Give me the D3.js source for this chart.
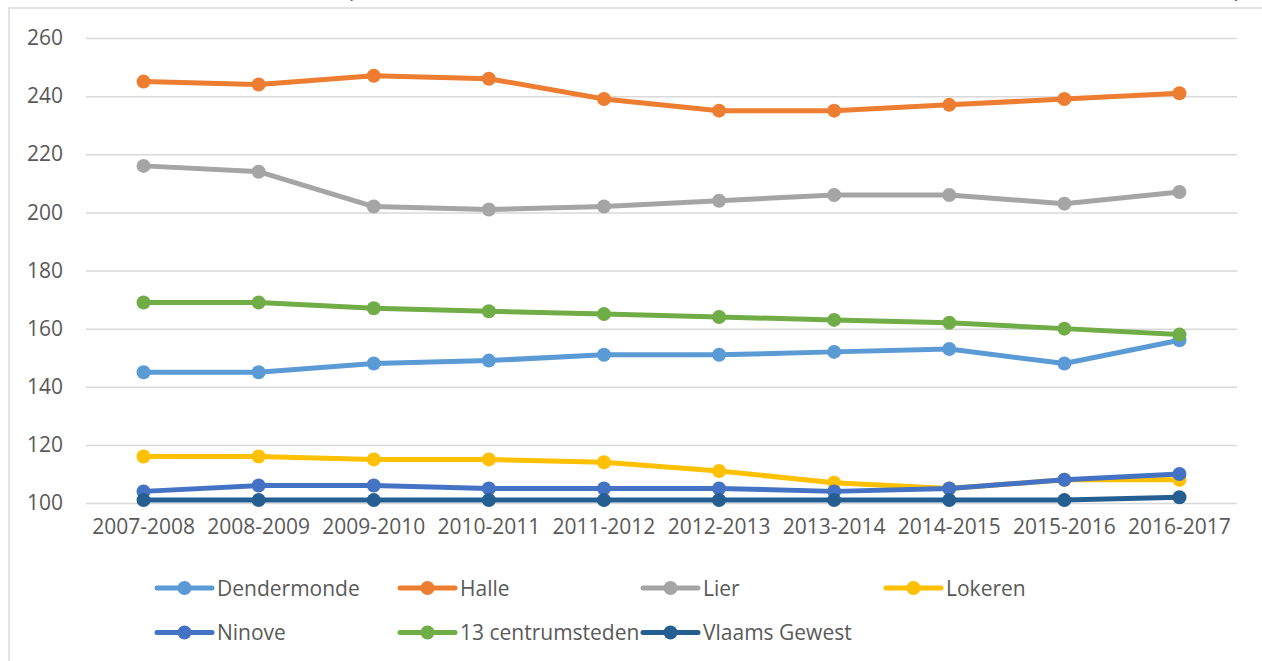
<!DOCTYPE html>
<html><head><meta charset="utf-8">
<script src="https://cdn.jsdelivr.net/npm/d3@7"></script>
<style>
html,body{margin:0;padding:0;background:#fff;}
svg{display:block;font-family:"Open Sans",sans-serif;}
</style></head>
<body>
<svg id="chart" width="1262" height="661"></svg>
<script>
const categories = ["2007-2008","2008-2009","2009-2010","2010-2011","2011-2012","2012-2013","2013-2014","2014-2015","2015-2016","2016-2017"];
const yTicks = [100,120,140,160,180,200,220,240,260];
const seriesNames = ["Dendermonde","Halle","Lier","Lokeren","Ninove","13 centrumsteden","Vlaams Gewest"];
const seriesColors = ["#5B9BD5","#ED7D31","#A5A5A5","#FFC000","#4472C4","#70AD47","#255E91"];
const dendermonde = [145,145,148,149,151,151,152,153,148,156];
const halle = [245,244,247,246,239,235,235,237,239,241];
const lier = [216,214,202,201,202,204,206,206,203,207];
const lokeren = [116,116,115,115,114,111,107,105,108,108];
const ninove = [104,106,106,105,105,105,104,105,108,110];
const centrumsteden = [169,169,167,166,165,164,163,162,160,158];
const vlaamsGewest = [101,101,101,101,101,101,101,101,101,102];
const seriesValues = [dendermonde,halle,lier,lokeren,ninove,centrumsteden,vlaamsGewest];

const svg = d3.select("#chart");
const textColor = "#595959";
const gridColor = "#D9D9D9";

// chart area border (extends beyond viewport)
svg.append("rect").attr("x",9).attr("y",8).attr("width",1400).attr("height",800)
  .attr("fill","none").attr("stroke",gridColor).attr("stroke-width",1.5);

// cut-off title remnants (the reference shows only their lower tips)
svg.append("text").attr("x",347).attr("y",-2).attr("font-size",22).attr("fill",textColor).text("(");
svg.append("text").attr("x",1234).attr("y",-2).attr("font-size",22).attr("fill",textColor).text(")");

const x = d3.scaleBand().domain(categories).range([86,1237]);
const y = d3.scaleLinear().domain([100,260]).range([503,38]);

// gridlines
const yAxis = d3.axisLeft(y).tickValues(yTicks).tickSize(-(1237-86)).tickPadding(23);
const gy = svg.append("g").attr("transform","translate(86,0)").call(yAxis);
gy.select(".domain").remove();
gy.selectAll(".tick line").attr("stroke",gridColor).attr("stroke-width",1.5);
gy.selectAll(".tick text").attr("fill",textColor).attr("font-size",21).attr("font-family","Open Sans, sans-serif");

const xAxis = d3.axisBottom(x).tickSize(0).tickPadding(16);
const gx = svg.append("g").attr("transform","translate(0,503)").call(xAxis);
gx.select(".domain").remove();
gx.selectAll(".tick text").attr("fill",textColor).attr("font-size",21).attr("font-family","Open Sans, sans-serif");

const line = d3.line().x((d,i)=>x(categories[i])+x.bandwidth()/2).y(d=>y(d));

seriesValues.forEach((vals,si)=>{
  const g = svg.append("g");
  g.append("path").datum(vals).attr("d",line).attr("fill","none")
    .attr("stroke",seriesColors[si]).attr("stroke-width",5).attr("stroke-linejoin","round").attr("stroke-linecap","round");
  g.selectAll("circle").data(vals).join("circle")
    .attr("cx",(d,i)=>x(categories[i])+x.bandwidth()/2).attr("cy",d=>y(d)).attr("r",7)
    .attr("fill",seriesColors[si]);
});

// legend
const legCols = [157,400,643,886];
const legRows = [588,632.5];
seriesNames.forEach((name,i)=>{
  const col = i % 4, row = Math.floor(i/4);
  const lx = legCols[col], ly = legRows[row];
  const g = svg.append("g");
  g.append("line").attr("x1",lx).attr("x2",lx+55).attr("y1",ly).attr("y2",ly)
    .attr("stroke",seriesColors[i]).attr("stroke-width",5).attr("stroke-linecap","round");
  g.append("circle").attr("cx",lx+27.5).attr("cy",ly).attr("r",7).attr("fill",seriesColors[i]);
  g.append("text").attr("x",lx+60).attr("y",ly).attr("dy","0.36em").attr("font-size",21)
    .attr("fill",textColor).text(name);
});
</script>
</body></html>
